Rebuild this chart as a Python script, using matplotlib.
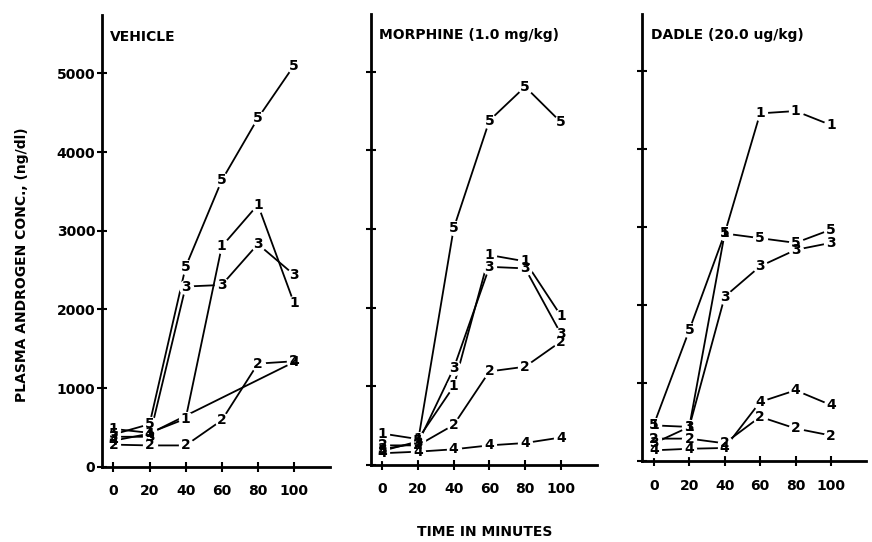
import numpy as np
import matplotlib
matplotlib.use("Agg")
import matplotlib.pyplot as plt

# sampling times (minutes)
times = [0, 20, 40, 60, 80, 100]
series_ids = ["1", "2", "3", "4", "5"]

# plasma androgen conc. (ng/dl), one list per animal
vehicle = {
    "1": [480, 430, 610, 2800, 3330, 2080],
    "2": [280, 270, 270, 590, 1310, 1340],
    "3": [380, 380, 2290, 2310, 2830, 2440],
    "4": [330, 420, np.nan, np.nan, np.nan, 1330],
    "5": [410, 540, 2540, 3640, 4430, 5100],
}
morphine = {
    "1": [400, 330, 1000, 2670, 2590, 1900],
    "2": [250, 250, 510, 1190, 1250, 1570],
    "3": [200, 280, 1230, 2520, 2500, 1670],
    "4": [150, 170, 200, 250, 280, 350],
    "5": [180, 300, 3010, 4380, 4810, 4360],
}
dadle = {
    "1": [460, 440, 2920, 4460, 4490, 4310],
    "2": [290, 290, 230, 570, 420, 330],
    "3": [230, 440, 2110, 2500, 2710, 2800],
    "4": [140, 160, 170, 760, 910, 720],
    "5": [470, 1680, 2920, 2860, 2800, 2970],
}

panel_titles = ["VEHICLE", "MORPHINE (1.0 mg/kg)", "DADLE (20.0 ug/kg)"]
panel_data = [vehicle, morphine, dadle]
yticks = [0, 1000, 2000, 3000, 4000, 5000]

plt.rcParams["font.family"] = "DejaVu Sans"
plt.rcParams["font.weight"] = "bold"

fig = plt.figure(figsize=(8.72, 5.42), dpi=100)

# [left, bottom, width, height] in figure fraction
boxes = [
    [0.1166, 0.139, 0.262, 0.833],
    [0.4251, 0.142, 0.259, 0.833],
    [0.7366, 0.149, 0.257, 0.826],
]

for i in range(3):
    ax = fig.add_axes(boxes[i])
    data = panel_data[i]
    t = np.array(times, dtype=float)

    for sid in series_ids:
        y = np.array(data[sid], dtype=float)
        ok = ~np.isnan(y)
        ax.plot(t[ok], y[ok], color="black", lw=1.3, zorder=1)
        # white disc under each digit so lines stop short of it
        ax.plot(t[ok], y[ok], linestyle="none", marker="o", ms=11,
                mfc="white", mec="none", zorder=2)

    for sid in series_ids:
        y = data[sid]
        for tx, ty in zip(times, y):
            if np.isnan(ty):
                continue
            ax.text(tx, ty, sid, ha="center", va="center", fontsize=10,
                    fontweight="bold", zorder=3)

    ax.set_xlim(-6.5, 120)
    ax.set_ylim(0, 5740)
    ax.set_xticks(times)
    ax.set_yticks(yticks)
    ax.spines["top"].set_visible(False)
    ax.spines["right"].set_visible(False)
    ax.spines["left"].set_linewidth(2)
    ax.spines["bottom"].set_linewidth(2)
    ax.tick_params(axis="both", direction="inout", length=7, width=1.5,
                   labelsize=10)
    ax.tick_params(axis="x", pad=9)
    ax.tick_params(axis="y", pad=1)
    if i > 0:
        ax.set_yticklabels([])

    ax.text(0.037, 0.952, panel_titles[i], transform=ax.transAxes,
            ha="left", va="center", fontsize=10, fontweight="bold")

fig.text(0.025, 0.511, "PLASMA ANDROGEN CONC., (ng/dl)", rotation=90,
         ha="center", va="center", fontsize=10, fontweight="bold")
fig.text(0.556, 0.018, "TIME IN MINUTES", ha="center", va="center",
         fontsize=10, fontweight="bold")

fig.savefig("out.png", dpi=100)
